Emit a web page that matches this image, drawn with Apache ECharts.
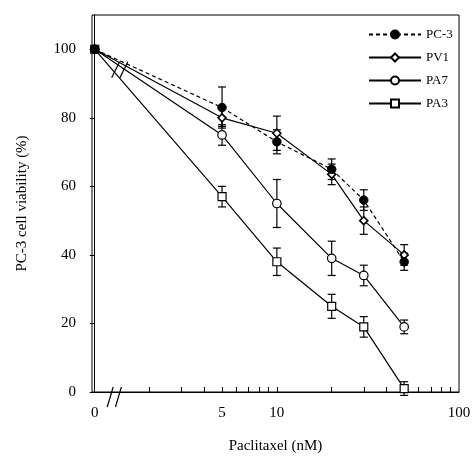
<!DOCTYPE html>
<html>
<head>
<meta charset="utf-8">
<script src="https://cdn.jsdelivr.net/npm/echarts@6/dist/echarts.min.js"></script>
<style>html,body{margin:0;padding:0;background:#fff}#c{width:476px;height:461px}</style>
</head>
<body>
<div id="c"></div>
<script>
// Data (concentration in nM; 0 is plotted at the break position)
const concentrations = [0, 5, 10, 20, 30, 50];
const pc3 = [100, 83, 73, 65, 56, 38];
const pc3Err = [0, 6, 3.5, 3, 3, 2.5];
const pv1 = [100, 80, 75.5, 63.5, 50, 40];
const pv1Err = [0, 2.5, 5, 3, 4, 3];
const pa7 = [100, 75, 55, 39, 34, 19];
const pa7Err = [0, 3, 7, 5, 3, 2];
const pa3 = [100, 57, 38, 25, 19, 1];
const pa3Err = [0, 3, 4, 3.5, 3, 2];
const xTickLabels = [0, 5, 10, 100];
const xMinorTicks = [2, 3, 4, 5, 6, 7, 8, 9, 10, 20, 30, 40, 50, 60, 70, 80, 90];
const yTicks = [0, 20, 40, 60, 80, 100];

const FONT = '"Liberation Serif", "DejaVu Serif", serif';
const lg = c => (c === 0 ? 0 : Math.log10(c));
const pts = arr => concentrations.map((c, i) => [lg(c), arr[i]]);
const errPts = (arr, err) => concentrations.map((c, i) => [lg(c), arr[i] - err[i], arr[i] + err[i], err[i]]);

function errSeries(arr, err) {
  return {
    type: 'custom',
    data: errPts(arr, err),
    z: 1,
    silent: true,
    renderItem: function (params, api) {
      if (api.value(3) === 0) return null;
      const lo = api.coord([api.value(0), api.value(1)]);
      const hi = api.coord([api.value(0), api.value(2)]);
      const w = 4;
      const st = { stroke: '#000', lineWidth: 1.2 };
      return {
        type: 'group',
        children: [
          { type: 'line', shape: { x1: lo[0], y1: lo[1], x2: hi[0], y2: hi[1] }, style: st },
          { type: 'line', shape: { x1: lo[0] - w, y1: lo[1], x2: lo[0] + w, y2: lo[1] }, style: st },
          { type: 'line', shape: { x1: hi[0] - w, y1: hi[1], x2: hi[0] + w, y2: hi[1] }, style: st }
        ]
      };
    }
  };
}

const chart = echarts.init(document.getElementById('c'), null, { renderer: 'canvas' });
const option = {
  backgroundColor: '#fff',
  animation: false,
  textStyle: { fontFamily: FONT, color: '#000' },
  grid: { left: 92, right: 17, top: 15, bottom: 69, show: true, borderColor: '#000', borderWidth: 1, backgroundColor: 'transparent' },
  legend: {
    data: ['PC-3', 'PV1', 'PA7', 'PA3'],
    orient: 'vertical',
    left: 363,
    top: 23,
    itemWidth: 52,
    itemHeight: 10,
    itemGap: 10,
    textStyle: { fontFamily: FONT, fontSize: 13, color: '#000' }
  },
  xAxis: {
    type: 'value',
    min: -0.015,
    max: 2,
    name: 'Paclitaxel (nM)',
    nameLocation: 'middle',
    nameGap: 47,
    nameTextStyle: { fontFamily: FONT, fontSize: 15, color: '#000' },
    axisLine: { show: true, lineStyle: { color: '#000', width: 1 } },
    axisTick: { show: true, inside: true, length: 5, lineStyle: { color: '#000' }, customValues: xMinorTicks.map(lg) },
    axisLabel: {
      customValues: xTickLabels.map(lg),
      margin: 14,
      fontFamily: FONT, fontSize: 15, color: '#000',
      formatter: v => (v < 0.01 ? '0' : String(Math.round(Math.pow(10, v))))
    },
    splitLine: { show: false }
  },
  yAxis: {
    type: 'value',
    min: 0,
    max: 110,
    name: 'PC-3 cell viability (%)',
    nameLocation: 'middle',
    nameGap: 62,
    nameTextStyle: { fontFamily: FONT, fontSize: 15, color: '#000' },
    axisLine: { show: true, lineStyle: { color: '#000', width: 1 } },
    axisTick: { show: true, inside: false, length: 5, lineStyle: { color: '#000' }, customValues: yTicks },
    axisLabel: { customValues: yTicks, margin: 16, fontFamily: FONT, fontSize: 15, color: '#000' },
    splitLine: { show: false }
  },
  series: [
    errSeries(pa3, pa3Err),
    errSeries(pa7, pa7Err),
    errSeries(pv1, pv1Err),
    errSeries(pc3, pc3Err),
    {
      name: 'PA3', type: 'line', data: pts(pa3), z: 3,
      symbol: 'rect', symbolSize: 8,
      itemStyle: { color: '#fff', borderColor: '#000', borderWidth: 1.2 },
      lineStyle: { color: '#000', width: 1.2 }
    },
    {
      name: 'PA7', type: 'line', data: pts(pa7), z: 3,
      symbol: 'circle', symbolSize: 8.5,
      itemStyle: { color: '#fff', borderColor: '#000', borderWidth: 1.2 },
      lineStyle: { color: '#000', width: 1.2 }
    },
    {
      name: 'PV1', type: 'line', data: pts(pv1), z: 3,
      symbol: 'diamond', symbolSize: 8,
      itemStyle: { color: '#fff', borderColor: '#000', borderWidth: 1.6 },
      lineStyle: { color: '#000', width: 1.2 }
    },
    {
      name: 'PC-3', type: 'line', data: pts(pc3), z: 4,
      symbol: 'circle', symbolSize: 8.5,
      itemStyle: { color: '#000', borderColor: '#000', borderWidth: 1 },
      lineStyle: { color: '#000', width: 1.2, type: [4, 3] }
    }
  ]
};
chart.setOption(option);

// Axis-break decorations positioned through the chart's own coordinate system
function slash(cx, cy, dx, dyUp, dyDown) {
  return { type: 'line', shape: { x1: cx - dx, y1: cy + dyDown, x2: cx + dx, y2: cy - dyUp }, style: { stroke: '#000', lineWidth: 1.2 }, z: 10 };
}
const gfx = [];
[0.085, 0.13].forEach(v => {
  const p = chart.convertToPixel({ gridIndex: 0 }, [v, 0]);
  gfx.push(slash(p[0], p[1] + 5, 3, 10, 10));
});
[0.115, 0.16].forEach(v => {
  const p = chart.convertToPixel({ gridIndex: 0 }, [v, 94]);
  gfx.push(slash(p[0], p[1], 4, 8, 8));
});
chart.setOption({ graphic: gfx });
</script>
</body>
</html>
